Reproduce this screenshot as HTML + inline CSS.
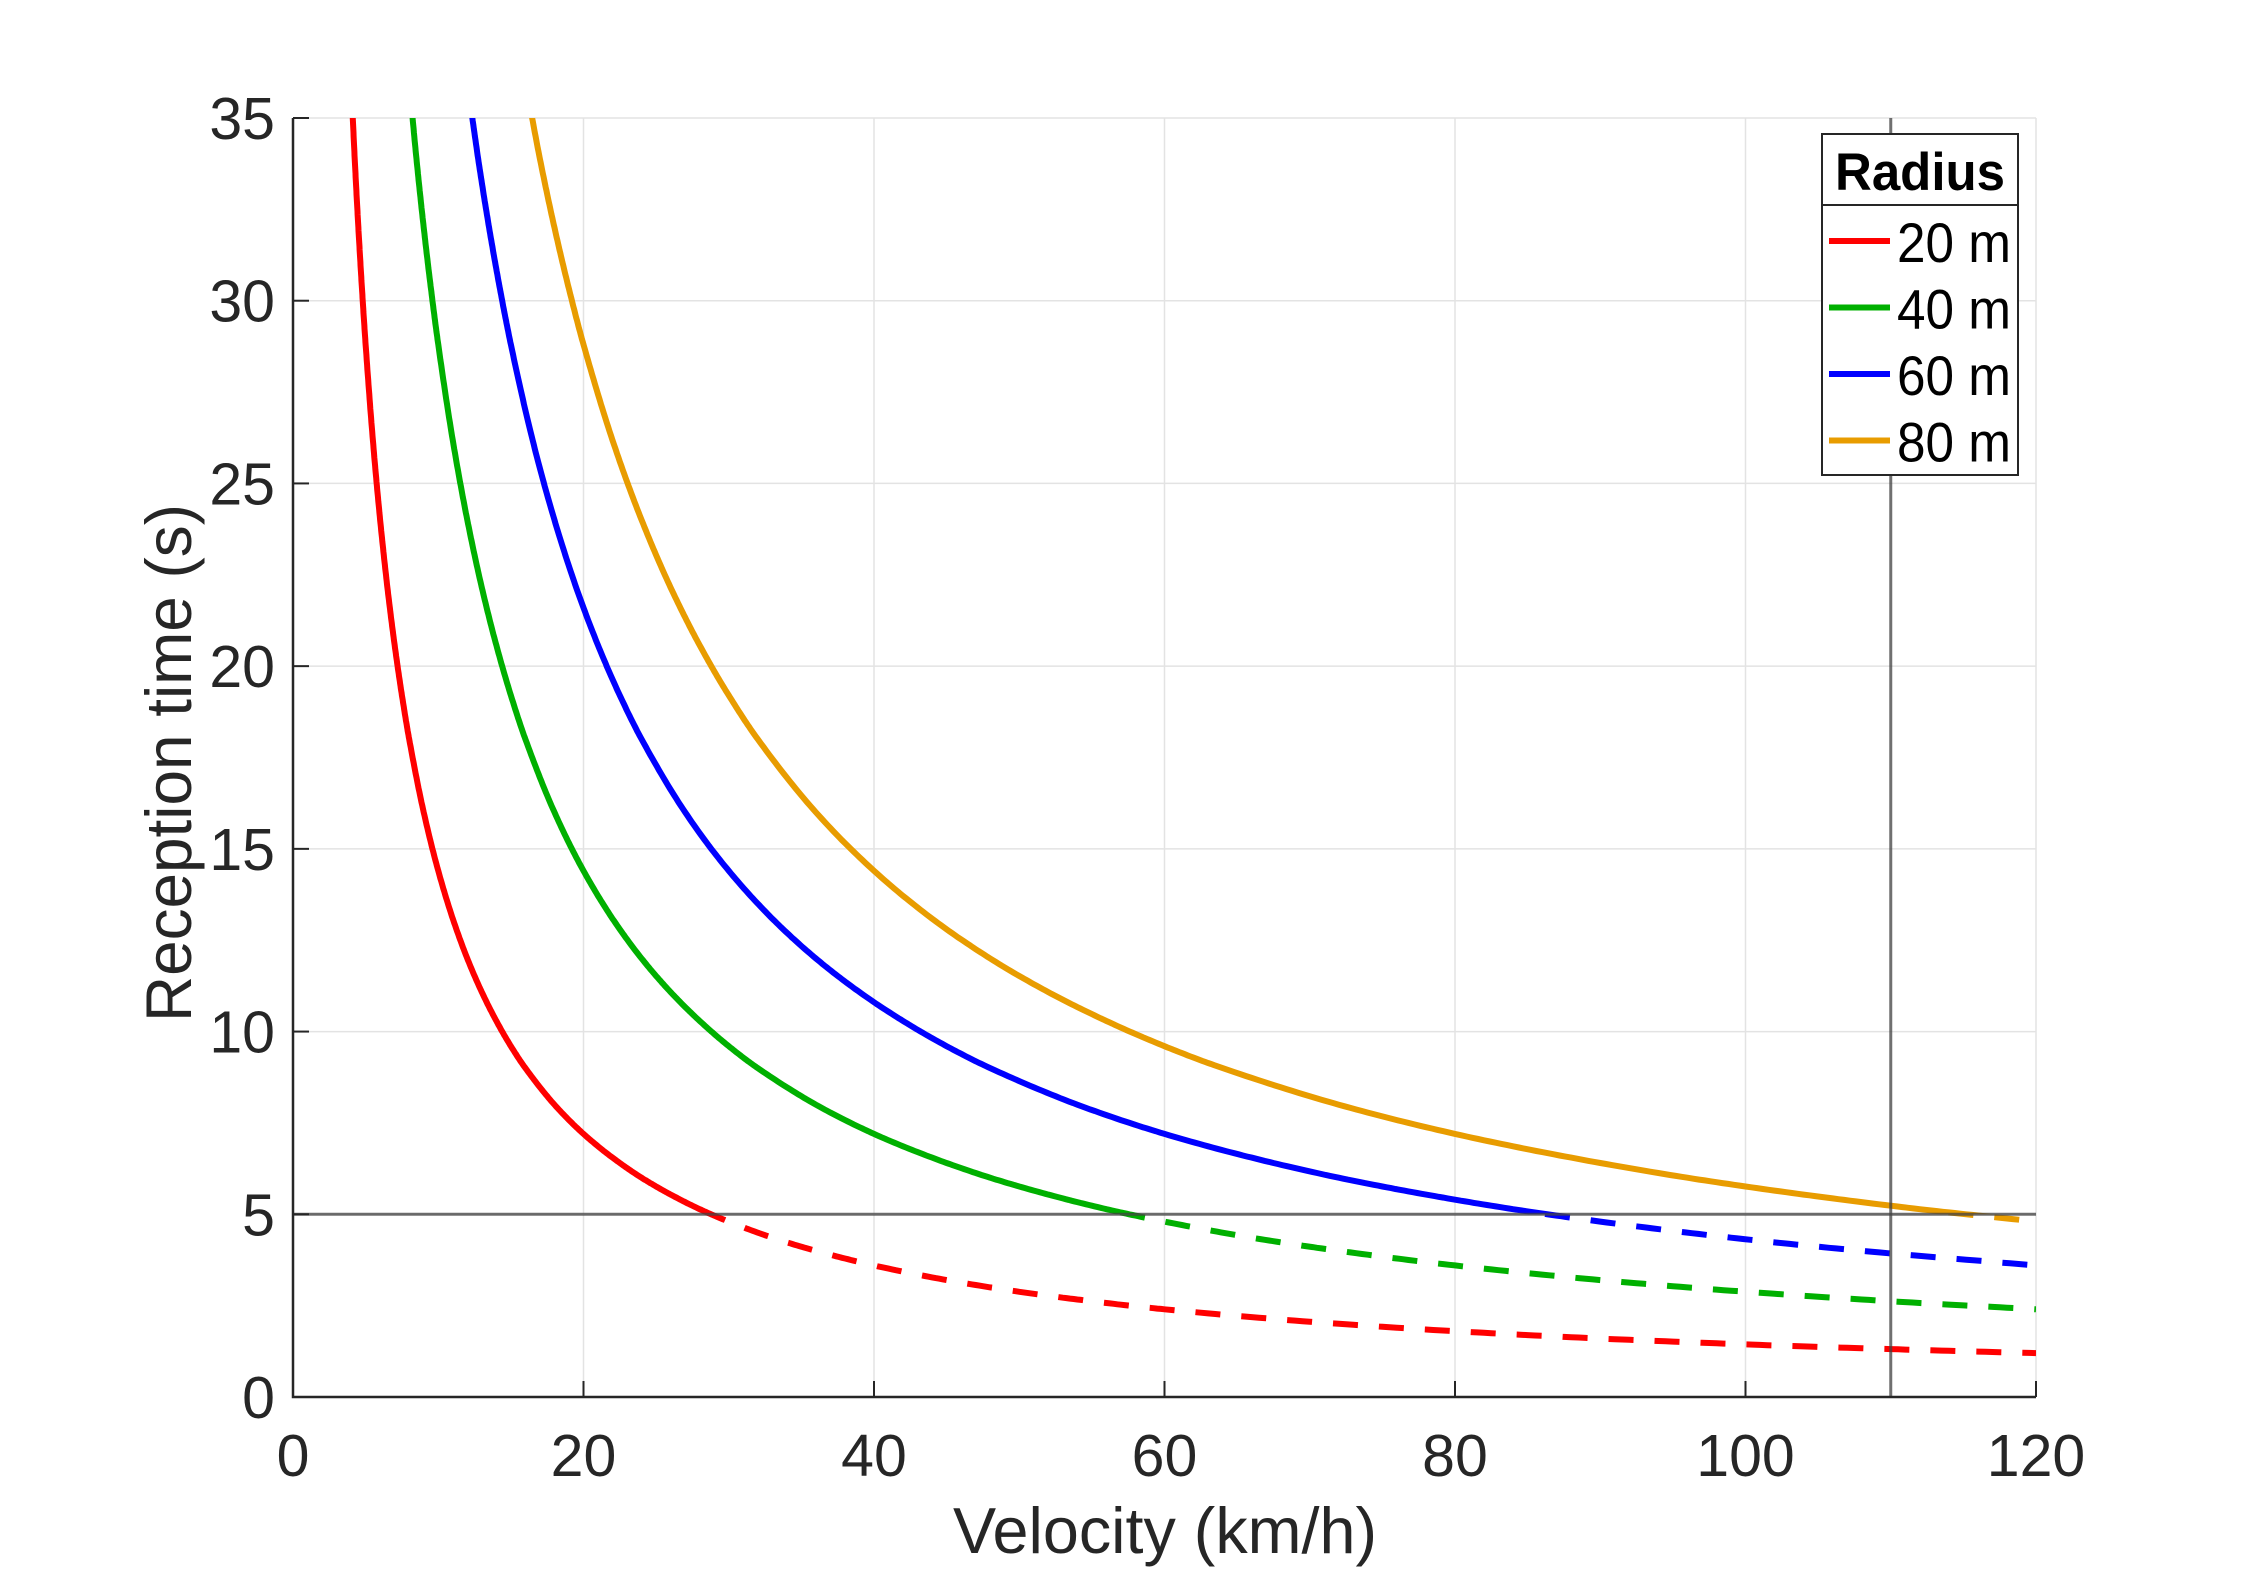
<!DOCTYPE html>
<html><head><meta charset="utf-8"><style>
html,body{margin:0;padding:0;background:#fff}
svg text{font-family:"Liberation Sans",Arial,sans-serif;fill:#262626}
</style></head>
<body>
<svg id="chart" width="2250" height="1572" viewBox="0 0 2250 1572" xmlns="http://www.w3.org/2000/svg">
<defs>
<clipPath id="plotClip"><rect x="293" y="118" width="1743" height="1279"/></clipPath>
</defs>
<g id="grid"></g>
<g id="series" clip-path="url(#plotClip)"></g>
<g id="refs"></g>
<g id="axes"></g>
<text x="1165" y="1553" font-size="65" text-anchor="middle" textLength="424" lengthAdjust="spacingAndGlyphs">Velocity (km/h)</text>
<text transform="translate(191,763) rotate(-90)" font-size="65" text-anchor="middle" textLength="518" lengthAdjust="spacingAndGlyphs">Reception time (s)</text>
<g id="legend"></g>
</svg>
<script>
const xTicks = [0,20,40,60,80,100,120];
const yTicks = [0,5,10,15,20,25,30,35];
const seriesNames = ["20 m","40 m","60 m","80 m"];
const v20 = [4,4.25,4.5,4.75,5,5.5,6,6.5,7,7.5,8,9,10,11,12,13,14,15,16,18,20,22,24,26,28,30,33,36,40,45,50,55,60,70,80,90,100,110,120];
const t20 = [36,33.88,32,30.32,28.8,26.18,24,22.15,20.57,19.2,18,16,14.4,13.09,12,11.08,10.29,9.6,9,8,7.2,6.55,6,5.54,5.14,4.8,4.36,4,3.6,3.2,2.88,2.62,2.4,2.06,1.8,1.6,1.44,1.31,1.2];
const v40 = [8,8.5,9,9.5,10,11,12,13,14,15,16,18,20,22,24,26,28,30,32,36,40,44,48,52,56,60,66,72,80,90,100,110,120];
const t40 = [36,33.88,32,30.32,28.8,26.18,24,22.15,20.57,19.2,18,16,14.4,13.09,12,11.08,10.29,9.6,9,8,7.2,6.55,6,5.54,5.14,4.8,4.36,4,3.6,3.2,2.88,2.62,2.4];
const v60 = [12,12.75,13.5,14.25,15,16.5,18,19.5,21,22.5,24,27,30,33,36,39,42,45,48,54,60,66,72,78,84,90,99,108,120];
const t60 = [36,33.88,32,30.32,28.8,26.18,24,22.15,20.57,19.2,18,16,14.4,13.09,12,11.08,10.29,9.6,9,8,7.2,6.55,6,5.54,5.14,4.8,4.36,4,3.6];
const v80 = [16,17,18,19,20,22,24,26,28,30,32,36,40,44,48,52,56,60,64,72,80,88,96,104,112,120];
const t80 = [36,33.88,32,30.32,28.8,26.18,24,22.15,20.57,19.2,18,16,14.4,13.09,12,11.08,10.29,9.6,9,8,7.2,6.55,6,5.54,5.14,4.8];
const thresholdTime = 5;
const refVelocity = 110;

const NS="http://www.w3.org/2000/svg";
const L=293,R=2036,T=118,B=1397;
const xMax=120,yMax=35;
const sx=v=>L+(R-L)*v/xMax;
const sy=t=>B-(B-T)*t/yMax;
function mk(tag,attrs,parent){const e=document.createElementNS(NS,tag);for(const k in attrs)e.setAttribute(k,attrs[k]);parent.appendChild(e);return e;}
const grid=document.getElementById('grid'),axes=document.getElementById('axes'),ser=document.getElementById('series'),refs=document.getElementById('refs'),leg=document.getElementById('legend');

xTicks.forEach(v=>{
  const g=mk('line',{x1:sx(v),x2:sx(v),y1:T,y2:B,stroke:'#e3e3e3','stroke-width':1.5},grid);
  
  
  const tk=mk('line',{x1:sx(v),x2:sx(v),y1:B,y2:B-16,stroke:'#262626','stroke-width':2},axes);
  
  
  const tx=mk('text',{x:sx(v),y:1476,'font-size':59,'text-anchor':'middle'},axes);
  tx.textContent=v;
  
  
});
yTicks.forEach(t=>{
  const g=mk('line',{x1:L,x2:R,y1:sy(t),y2:sy(t),stroke:'#e3e3e3','stroke-width':1.5},grid);
  
  
  const tk=mk('line',{x1:L,x2:L+16,y1:sy(t),y2:sy(t),stroke:'#262626','stroke-width':2},axes);
  
  
  const tx=mk('text',{x:275,y:sy(t)+21,'font-size':59,'text-anchor':'end'},axes);
  tx.textContent=t;
  
  
});
const ax=mk('path',{d:`M${L},${T} L${L},${B} L${R},${B}`,fill:'none',stroke:'#262626','stroke-width':2.5},axes);



function monotone(xs,ys){
  const n=xs.length,d=[],m=[];
  for(let i=0;i<n-1;i++)d.push((ys[i+1]-ys[i])/(xs[i+1]-xs[i]));
  m[0]=d[0];m[n-1]=d[n-2];
  for(let i=1;i<n-1;i++){m[i]=(d[i-1]*d[i]<=0)?0:2/(1/d[i-1]+1/d[i]);}
  const pts=[];
  for(let i=0;i<n-1;i++){
    const h=xs[i+1]-xs[i];
    for(let k=0;k<20;k++){
      const s=k/20,h00=2*s*s*s-3*s*s+1,h10=s*s*s-2*s*s+s,h01=-2*s*s*s+3*s*s,h11=s*s*s-s*s;
      pts.push([xs[i]+s*h,h00*ys[i]+h10*h*m[i]+h01*ys[i+1]+h11*h*m[i+1]]);
    }
  }
  pts.push([xs[n-1],ys[n-1]]);
  return pts;
}
const cy=sy(thresholdTime);
const defs=document.querySelector('defs');
const sc=mk('clipPath',{id:'solidClip'},defs);
mk('rect',{x:0,y:0,width:2250,height:cy},sc);
const dc=mk('clipPath',{id:'dashClip'},defs);
mk('rect',{x:0,y:cy,width:2250,height:1572-cy},dc);

const colors=['#ff0000','#00b000','#0000ff','#e89c00'];
const data=[[v20,t20],[v40,t40],[v60,t60],[v80,t80]];
data.forEach((s,i)=>{
  const d='M'+monotone(s[0],s[1]).map(p=>sx(p[0]).toFixed(1)+','+sy(p[1]).toFixed(1)).join(' L');
  const a=mk('path',{d,fill:'none',stroke:colors[i],'stroke-width':6,'clip-path':'url(#solidClip)'},ser);
  
  
  const b=mk('path',{d,fill:'none',stroke:colors[i],'stroke-width':6,'stroke-dasharray':'25 21','clip-path':'url(#dashClip)'},ser);
  
  
});
const h=mk('line',{x1:L,x2:R,y1:cy,y2:cy,stroke:'#404040','stroke-opacity':0.75,'stroke-width':3},refs);


const vl=mk('line',{x1:sx(refVelocity),x2:sx(refVelocity),y1:T,y2:B,stroke:'#404040','stroke-opacity':0.75,'stroke-width':3},refs);



const box=mk('rect',{x:1822,y:134,width:196,height:341,fill:'#fff',stroke:'#262626','stroke-width':2},leg);


mk('line',{x1:1822,x2:2018,y1:205,y2:205,stroke:'#262626','stroke-width':2},leg);
const ttl=mk('text',{x:1920,y:190,'font-size':53,'font-weight':'bold','text-anchor':'middle',textLength:170,lengthAdjust:'spacingAndGlyphs',style:'fill:#000'},leg);
ttl.textContent='Radius';


seriesNames.forEach((nm,i)=>{
  const y=241+i*66.5;
  const g=mk('g',{},leg);
  
  
  mk('line',{x1:1829,x2:1890,y1:y,y2:y,stroke:colors[i],'stroke-width':6},g);
  const t=mk('text',{x:1897,y:y+21,'font-size':56,textLength:114,lengthAdjust:'spacingAndGlyphs',style:'fill:#000'},g);
  t.textContent=nm;
});
</script>
</body></html>
